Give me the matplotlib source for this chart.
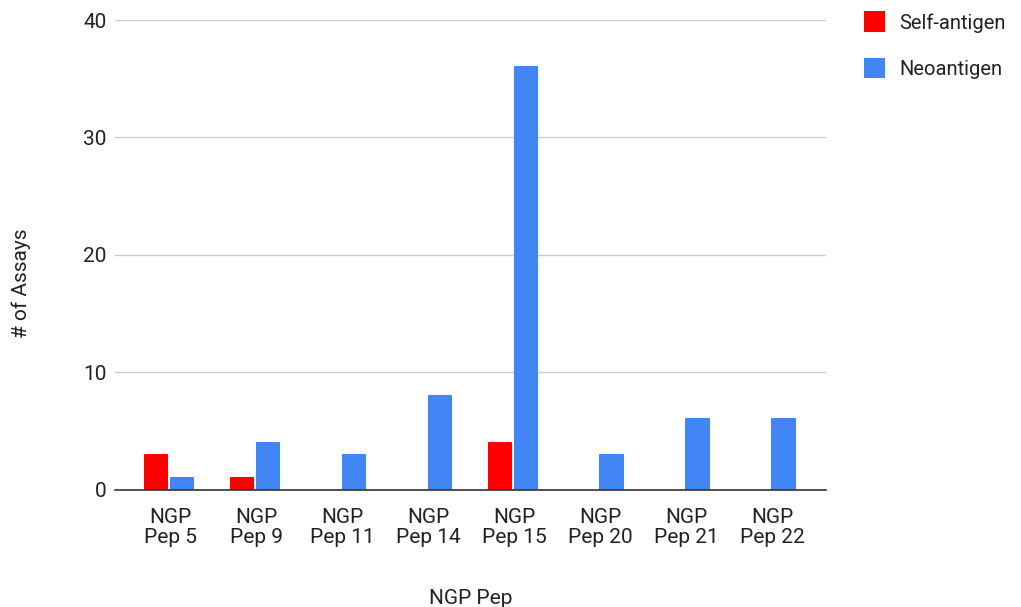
import matplotlib.pyplot as plt
import numpy as np

categories = ["NGP\nPep 5", "NGP\nPep 9", "NGP\nPep 11", "NGP\nPep 14",
              "NGP\nPep 15", "NGP\nPep 20", "NGP\nPep 21", "NGP\nPep 22"]
self_antigen = [3, 1, 0, 0, 4, 0, 0, 0]
neoantigen = [1, 4, 3, 8, 36, 3, 6, 6]
y_ticks = [0, 10, 20, 30, 40]

plt.rcParams['font.family'] = ['Roboto', 'DejaVu Sans']
fs = 15

fig = plt.figure(figsize=(10.21, 6.07), dpi=100)
ax = fig.add_axes([0.1126, 0.193, 0.696, 0.774])

x = np.arange(len(categories))
w = 0.26
off = 0.15
ax.bar(x - off - 0.02, self_antigen, w, color='#FF0000', edgecolor='#FF0000',
       linewidth=[1.5 if v else 0 for v in self_antigen], joinstyle='round',
       label='Self-antigen', zorder=3)
ax.bar(x + off - 0.02, neoantigen, w, color='#4285F4', edgecolor='#4285F4',
       linewidth=[1.5 if v else 0 for v in neoantigen], joinstyle='round',
       label='Neoantigen', zorder=3)

ax.set_xlim(-0.65, 7.62)
ax.set_ylim(0, 40)
ax.set_yticks(y_ticks)
ax.set_xticks(x)
ax.set_xticklabels(categories, fontsize=fs, color='#222222', linespacing=1.1)
ax.tick_params(axis='y', labelsize=fs, labelcolor='#222222', length=0, pad=6)
ax.tick_params(axis='x', length=0, pad=13)
ax.yaxis.grid(True, color='#CCCCCC', linewidth=1, zorder=0)
for s in ['top', 'right', 'left']:
    ax.spines[s].set_visible(False)
ax.spines['bottom'].set_color('#333333')
ax.spines['bottom'].set_linewidth(1.2)
ax.spines['bottom'].set_zorder(4)

ax.set_xlabel('NGP Pep', fontsize=fs, color='#222222', labelpad=30)
ax.set_ylabel('# of Assays', fontsize=fs, color='#222222', labelpad=38)
ax.yaxis.set_label_coords(-0.118, 0.44)

ax.legend(loc='upper left', bbox_to_anchor=(1.03, 1.055), frameon=False,
          fontsize=14.5, handlelength=0.95, handleheight=1.05,
          labelspacing=1.3, handletextpad=0.75, labelcolor='#222222')

fig.savefig('out.png', dpi=100)
